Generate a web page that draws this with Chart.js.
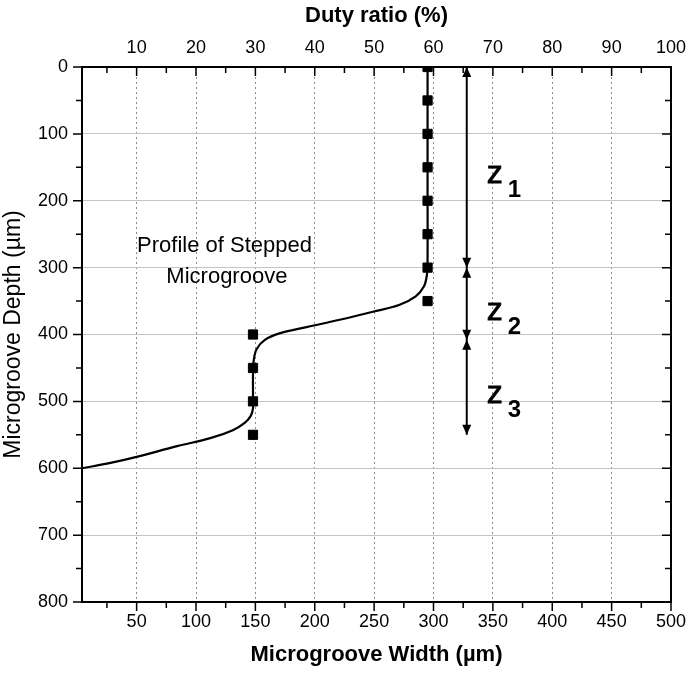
<!DOCTYPE html>
<html>
<head>
<meta charset="utf-8">
<script src="https://cdn.jsdelivr.net/npm/chart.js@4/dist/chart.umd.min.js"></script>
<style>
  html, body { margin: 0; padding: 0; background: #fff; }
</style>
</head>
<body>
<canvas id="profil" width="687" height="676"></canvas>
<script>
// axis ticks
const widthTicks = [50, 100, 150, 200, 250, 300, 350, 400, 450, 500];
const widthMinor = [25, 75, 125, 175, 225, 275, 325, 375, 425, 475];
const dutyTicks = [10, 20, 30, 40, 50, 60, 70, 80, 90, 100];
const dutyMinor = [5, 15, 25, 35, 45, 55, 65, 75, 85, 95];
const depthTicks = [0, 100, 200, 300, 400, 500, 600, 700, 800];
const depthMinor = [50, 150, 250, 350, 450, 550, 650, 750];

// measured points (width, depth)
const upperDepth = [0, 50, 100, 150, 200, 250, 300, 350];
const upperWidth = [295, 295, 295, 295, 295, 295, 295, 295];
const lowerDepth = [400, 450, 500, 550];
const lowerWidth = [148, 148, 148, 148];

// fitted profile of the stepped microgroove
const profileWidth = [295, 295, 295, 295, 294.5, 292, 285, 271, 249, 221, 193, 171, 158, 151, 148.5, 148, 148, 148, 146, 141, 131, 112, 84, 50, 28, 4];
const profileDepth = [0, 100, 200, 290, 310, 328, 343, 356, 366, 378, 389, 398, 408, 422, 440, 460, 490, 510, 522, 532, 543, 555, 567, 583, 592, 600];

// depth zones z1..z3
const zoneBounds = [0, 300, 408, 550];
const zoneNames = ['1', '2', '3'];
const zoneWidth = 328;

const toPoints = (xs, ys) => xs.map((v, i) => ({ x: v, y: ys[i] }));

const fontTicks = { family: 'Liberation Sans, Arial', size: 18 };
const fontTitle = { family: 'Liberation Sans, Arial', size: 22, weight: 'bold' };

function setTicks(values) {
  return scale => { scale.ticks = values.map(v => ({ value: v })); };
}

function arrowHead(ctx, x, y, dir) {
  // dir = -1 points up, 1 points down
  ctx.beginPath();
  ctx.moveTo(x, y);
  ctx.lineTo(x - 4.5, y - dir * 10);
  ctx.lineTo(x + 4.5, y - dir * 10);
  ctx.closePath();
  ctx.fill();
}

const cadre = {
  id: 'cadre',
  afterDatasetsDraw(chart) {
    const { ctx, chartArea: a, scales } = chart;
    const { x, y, x2 } = scales;
    ctx.save();
    ctx.strokeStyle = '#000';
    ctx.fillStyle = '#000';

    // frame
    ctx.lineWidth = 2;
    ctx.strokeRect(a.left, a.top, a.right - a.left, a.bottom - a.top);

    // tick marks
    ctx.lineWidth = 1.5;
    ctx.beginPath();
    widthTicks.forEach(v => { const p = x.getPixelForValue(v); ctx.moveTo(p, a.bottom); ctx.lineTo(p, a.bottom + 9); });
    widthMinor.forEach(v => { const p = x.getPixelForValue(v); ctx.moveTo(p, a.bottom); ctx.lineTo(p, a.bottom + 6); });
    dutyTicks.forEach(v => { const p = x2.getPixelForValue(v); ctx.moveTo(p, a.top); ctx.lineTo(p, a.top + 9); });
    dutyMinor.forEach(v => { const p = x2.getPixelForValue(v); ctx.moveTo(p, a.top); ctx.lineTo(p, a.top + 6); });
    depthTicks.forEach(v => {
      const p = y.getPixelForValue(v);
      ctx.moveTo(a.left, p); ctx.lineTo(a.left - 9, p);
      ctx.moveTo(a.right, p); ctx.lineTo(a.right - 9, p);
    });
    depthMinor.forEach(v => {
      const p = y.getPixelForValue(v);
      ctx.moveTo(a.left, p); ctx.lineTo(a.left - 6, p);
      ctx.moveTo(a.right, p); ctx.lineTo(a.right - 6, p);
    });
    ctx.stroke();

    // zone arrows
    const zx = x.getPixelForValue(zoneWidth);
    const yTop = y.getPixelForValue(zoneBounds[0]);
    const yEnd = y.getPixelForValue(zoneBounds[zoneBounds.length - 1]);
    ctx.lineWidth = 2;
    ctx.beginPath();
    ctx.moveTo(zx, yTop);
    ctx.lineTo(zx, yEnd);
    ctx.stroke();
    for (let i = 0; i < zoneNames.length; i++) {
      const y0 = y.getPixelForValue(zoneBounds[i]);
      const y1 = y.getPixelForValue(zoneBounds[i + 1]);
      arrowHead(ctx, zx, y0, -1);
      arrowHead(ctx, zx, y1, 1);
      const mid = (y0 + y1) / 2;
      ctx.textAlign = 'left';
      ctx.textBaseline = 'alphabetic';
      ctx.font = '32px "Liberation Sans", Arial';
      ctx.lineWidth = 0.8;
      ctx.fillText('z', zx + 20, mid + 16);
      ctx.strokeText('z', zx + 20, mid + 16);
      ctx.font = 'bold 24px "Liberation Sans", Arial';
      ctx.fillText(zoneNames[i], zx + 41, mid + 30);
    }

    // caption
    ctx.font = '22px "Liberation Sans", Arial';
    ctx.textAlign = 'center';
    ctx.fillText('Profile of Stepped', x.getPixelForValue(124), y.getPixelForValue(276));
    ctx.fillText('Microgroove', x.getPixelForValue(126), y.getPixelForValue(276) + 31);
    ctx.restore();
  }
};

// the frame sits flush with the layout padding, labels may overhang
function noSidePadding(height) {
  return s => { s.height = height; s.paddingLeft = 0; s.paddingRight = 0; };
}

new Chart(document.getElementById('profil'), {
  type: 'scatter',
  data: {
    datasets: [
      {
        type: 'line',
        data: toPoints(profileWidth, profileDepth),
        borderColor: '#000',
        borderWidth: 2.2,
        pointRadius: 0,
        tension: 0.35,
        fill: false
      },
      {
        data: toPoints(upperWidth, upperDepth),
        pointStyle: 'rect',
        pointRadius: 6.5,
        backgroundColor: '#000',
        borderColor: '#000'
      },
      {
        data: toPoints(lowerWidth, lowerDepth),
        pointStyle: 'rect',
        pointRadius: 6.5,
        backgroundColor: '#000',
        borderColor: '#000'
      }
    ]
  },
  options: {
    responsive: false,
    animation: false,
    layout: { padding: { right: 16 } },
    plugins: {
      legend: { display: false },
      tooltip: { enabled: false }
    },
    scales: {
      x: {
        type: 'linear',
        position: 'bottom',
        min: 4,
        max: 500,
        afterBuildTicks: setTicks(widthTicks),
        afterFit: noSidePadding(74),
        ticks: { color: '#000', font: fontTicks, padding: 9, maxRotation: 0 },
        grid: { color: '#8a8a8a', lineWidth: 1, drawTicks: false },
        border: { display: false, dash: [2, 3] },
        title: { display: true, text: 'Microgroove Width (\u00b5m)', color: '#000', font: fontTitle, padding: { bottom: 8 } }
      },
      x2: {
        type: 'linear',
        position: 'top',
        min: 0.8,
        max: 100,
        afterBuildTicks: setTicks(dutyTicks),
        afterFit: noSidePadding(67),
        ticks: { color: '#000', font: fontTicks, padding: 8, maxRotation: 0 },
        grid: { drawOnChartArea: false, drawTicks: false },
        border: { display: false },
        title: { display: true, text: 'Duty ratio (%)', color: '#000', font: fontTitle, padding: { top: 3 } }
      },
      y: {
        type: 'linear',
        position: 'left',
        reverse: true,
        min: 0,
        max: 800,
        afterBuildTicks: setTicks(depthTicks),
        afterFit: s => { s.width = 82; },
        ticks: { color: '#000', font: fontTicks, padding: 14 },
        grid: { color: '#c4c4c4', lineWidth: 1, drawTicks: false },
        border: { display: false },
        title: { display: true, text: 'Microgroove Depth (\u00b5m)', color: '#000', font: { family: 'Liberation Sans, Arial', size: 23 }, padding: { top: 0 } }
      }
    }
  },
  plugins: [cadre]
});
</script>
</body>
</html>
